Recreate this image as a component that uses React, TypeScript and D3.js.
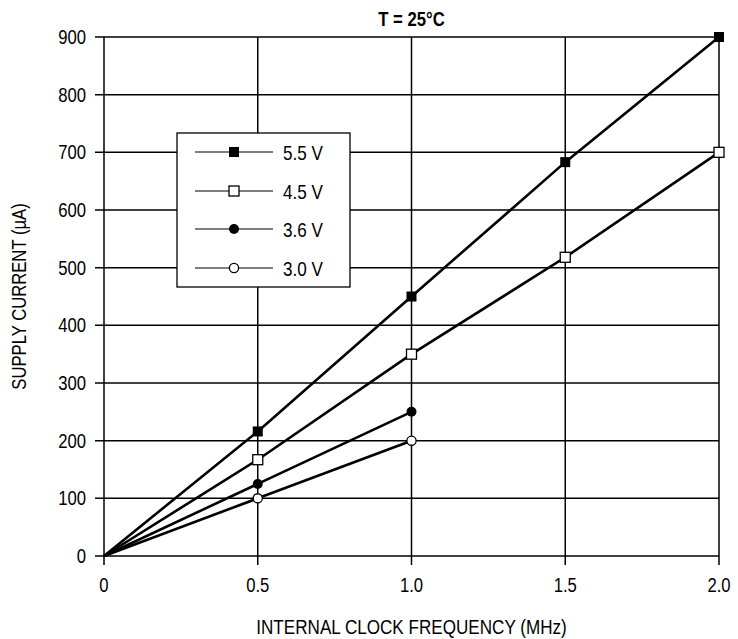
import React from "react";
import * as d3 from "d3";

const xTicks = [0, 0.5, 1.0, 1.5, 2.0];
const xTickLabels = ["0", "0.5", "1.0", "1.5", "2.0"];
const yTicks = [0, 100, 200, 300, 400, 500, 600, 700, 800, 900];

const freq55 = [0, 0.5, 1.0, 1.5, 2.0];
const cur55 = [0, 216, 450, 683, 900];
const freq45 = [0, 0.5, 1.0, 1.5, 2.0];
const cur45 = [0, 167, 350, 518, 700];
const freq36 = [0, 0.5, 1.0];
const cur36 = [0, 125, 250];
const freq30 = [0, 0.5, 1.0];
const cur30 = [0, 100, 200];

const seriesNames = ["5.5 V", "4.5 V", "3.6 V", "3.0 V"];
const seriesMarkers = ["squareFilled", "squareOpen", "circleFilled", "circleOpen"];

const FONT = "'Liberation Sans', Arial, sans-serif";
const SX = 0.855;

function NText(props: { x: number; y: number; size: number; anchor?: string; bold?: boolean; rotate?: number; children: React.ReactNode }) {
  const { x, y, size, anchor = "start", bold = false, rotate = 0, children } = props;
  return (
    <text
      transform={`translate(${x},${y}) rotate(${rotate}) scale(${SX},1)`}
      fontSize={size}
      fontWeight={bold ? "bold" : "normal"}
      textAnchor={anchor}
      fill="#000"
    >
      {children}
    </text>
  );
}

export default function App() {
  const W = 738, H = 639;
  const left = 104, right = 719, top = 37, bottom = 556;
  const x = d3.scaleLinear().domain([0, 2]).range([left, right]);
  const y = d3.scaleLinear().domain([0, 900]).range([bottom, top]);
  const line = d3.line<[number, number]>().x(d => x(d[0])).y(d => y(d[1]));

  const series = [
    { f: freq55, c: cur55 },
    { f: freq45, c: cur45 },
    { f: freq36, c: cur36 },
    { f: freq30, c: cur30 },
  ];

  const marker = (type: string, cx: number, cy: number, key: string) => {
    if (type === "squareFilled")
      return <rect key={key} x={cx - 5} y={cy - 5} width={10} height={10} fill="#000" />;
    if (type === "squareOpen")
      return <rect key={key} x={cx - 5} y={cy - 5} width={10} height={10} fill="#fff" stroke="#000" strokeWidth={1.3} />;
    if (type === "circleFilled")
      return <circle key={key} cx={cx} cy={cy} r={5} fill="#000" />;
    return <circle key={key} cx={cx} cy={cy} r={4.6} fill="#fff" stroke="#000" strokeWidth={1.3} />;
  };

  const legX = 177, legY = 133, legW = 173, legH = 154;
  const rowYs = [152, 191, 229, 268];

  return (
    <svg width={W} height={H} style={{ position: "absolute", left: 0, top: 0, background: "#fff" }} fontFamily={FONT}>
      <rect x={0} y={0} width={W} height={H} fill="#fff" />
      {yTicks.map(t => (
        <line key={"gy" + t} x1={95} x2={right} y1={y(t)} y2={y(t)} stroke="#000" strokeWidth={1.5} />
      ))}
      {xTicks.map(t => (
        <line key={"gx" + t} x1={x(t)} x2={x(t)} y1={top} y2={565} stroke="#000" strokeWidth={1.5} />
      ))}
      {yTicks.map(t => (
        <NText key={"ly" + t} x={86} y={y(t) + 7} size={19.5} anchor="end">{t}</NText>
      ))}
      {xTicks.map((t, i) => (
        <NText key={"lx" + t} x={x(t)} y={592} size={19.5} anchor="middle">{xTickLabels[i]}</NText>
      ))}
      {series.map((s, i) => (
        <path key={"p" + i} d={line(s.f.map((f, j) => [f, s.c[j]] as [number, number])) || ""} fill="none" stroke="#000" strokeWidth={2.6} />
      ))}
      {series.map((s, i) =>
        s.f.map((f, j) => (j === 0 ? null : marker(seriesMarkers[i], x(f), y(s.c[j]), `m${i}-${j}`)))
      )}
      <rect x={legX} y={legY} width={legW} height={legH} fill="#fff" stroke="#000" strokeWidth={1.3} />
      {seriesNames.map((n, i) => (
        <g key={"leg" + i}>
          <line x1={195} x2={273} y1={rowYs[i]} y2={rowYs[i]} stroke="#000" strokeWidth={1.2} />
          {marker(seriesMarkers[i], 234, rowYs[i], "lm" + i)}
          <NText x={283} y={rowYs[i] + 8} size={20}>{n}</NText>
        </g>
      ))}
      <NText x={(left + right) / 2} y={26} size={19.5} bold anchor="middle">T = 25°C</NText>
      <NText x={(left + right) / 2} y={634} size={20} anchor="middle">INTERNAL CLOCK FREQUENCY (MHz)</NText>
      <NText x={26} y={(top + bottom) / 2} size={19.5} anchor="middle" rotate={-90}>SUPPLY CURRENT (µA)</NText>
    </svg>
  );
}
